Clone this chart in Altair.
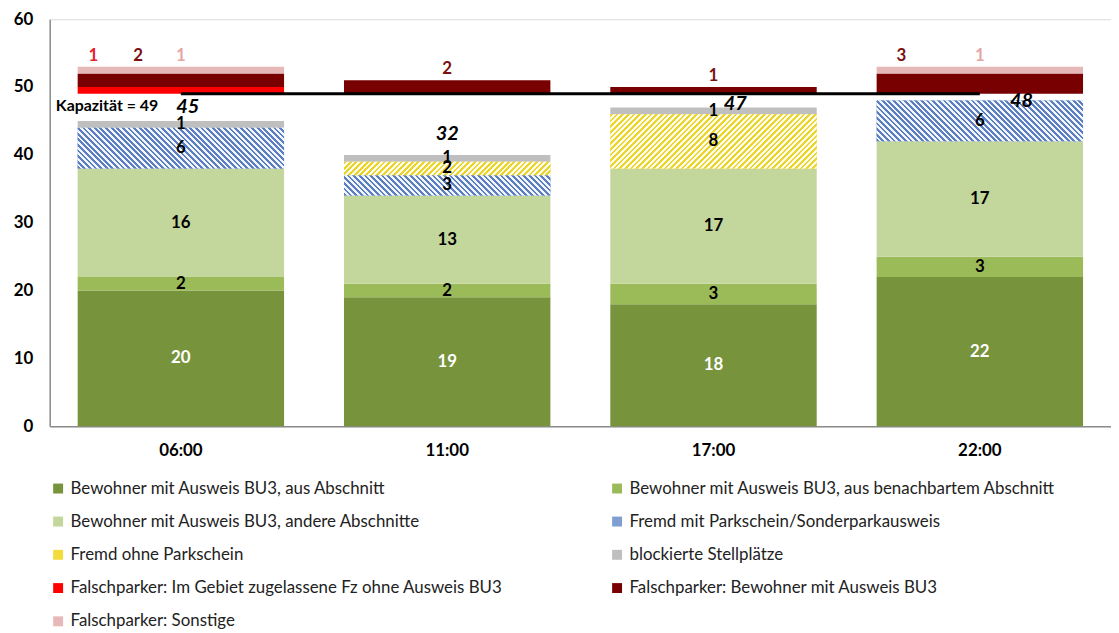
import math
import altair as alt
import pandas as pd

# ---------------- data ----------------
times = ["06:00", "11:00", "17:00", "22:00"]
categories = [
    "Bewohner mit Ausweis BU3, aus Abschnitt",
    "Bewohner mit Ausweis BU3, aus benachbartem Abschnitt",
    "Bewohner mit Ausweis BU3, andere Abschnitte",
    "Fremd mit Parkschein/Sonderparkausweis",
    "Fremd ohne Parkschein",
    "blockierte Stellplätze",
    "Falschparker: Im Gebiet zugelassene Fz ohne Ausweis BU3",
    "Falschparker: Bewohner mit Ausweis BU3",
    "Falschparker: Sonstige",
]
aus_abschnitt = [20, 19, 18, 22]
benachbart = [2, 2, 3, 3]
andere = [16, 13, 17, 17]
fremd_mit = [6, 3, 0, 6]
fremd_ohne = [0, 2, 8, 0]
blockiert = [1, 1, 1, 0]
falsch_gebiet = [1, 0, 0, 0]
falsch_bewohner = [2, 2, 1, 3]
falsch_sonstige = [1, 0, 0, 1]
total_labels = [45, 32, 47, 48]
capacity = 49

lower_series = [aus_abschnitt, benachbart, andere, fremd_mit, fremd_ohne, blockiert]
upper_series = [falsch_gebiet, falsch_bewohner, falsch_sonstige]

# ---------------- style ----------------
FONT = "Lato"
colors = ["#77933c", "#9bbb59", "#c3d69b", "#7f9fd3", "#f2dc3c",
          "#bfbfbf", "#ff0000", "#780000", "#e6b9b8"]
upper_label_colors = ["#e8202a", "#7a1010", "#e6a4a3"]
hatch_style = {
    categories[3]: ("#5b7fc0", "#f2f6fc", "back"),
    categories[4]: ("#ecd52a", "#fffdf0", "fwd"),
}
# per-label horizontal offsets (pixels) for the Falschparker labels
upper_dx = {("06:00", 0): -88, ("06:00", 1): -43, ("06:00", 2): 0,
            ("11:00", 1): 0, ("17:00", 1): 0,
            ("22:00", 1): -79, ("22:00", 2): 0}
total_dx = [7, 0, 22, 42]
total_dy = [-14, -21, -3, 0]

W, H, YMAX = 1069, 410, 60
PAD_IN, PAD_OUT = 0.225, 0.105
step = W / (len(times) - PAD_IN + 2 * PAD_OUT)
bar_w = step * (1 - PAD_IN)
unit = H / YMAX


def hatch(w, h, c_on, c_off, direction, period=4.0):
    t = (w + h) / (w * w + h * h)
    if direction == "back":
        x1, y1, x2, y2 = 0, 1, t * w, 1 - t * h
    else:
        x1, y1, x2, y2 = 0, 0, t * w, t * h
    n = max(1, round((w + h) / math.sqrt(2) / period))
    stops = []
    for i in range(n):
        a, m, b = i / n, (i + 0.5) / n, (i + 1) / n
        stops += [{"offset": a, "color": c_on}, {"offset": m, "color": c_on},
                  {"offset": m, "color": c_off}, {"offset": b, "color": c_off}]
    return {"gradient": "linear", "x1": x1, "y1": y1, "x2": x2, "y2": y2, "stops": stops}


# ---------------- tables ----------------
rows = []
for i, t in enumerate(times):
    base = 0
    for k, s in enumerate(lower_series):
        v = s[i]
        if v > 0:
            rows.append({"time": t, "cat": categories[k], "k": k, "v": v,
                         "y0": base, "y1": base + v, "part": "low"})
        base += v
    top = capacity + sum(s[i] for s in upper_series)
    base = capacity
    for k, s in enumerate(upper_series):
        v = s[i]
        if v > 0:
            rows.append({"time": t, "cat": categories[6 + k], "k": 6 + k, "v": v,
                         "y0": base, "y1": base + v, "part": "up", "top": top})
        base += v
df = pd.DataFrame(rows)
df["mid"] = (df["y0"] + df["y1"]) / 2

hrows = []
for r in rows:
    if r["cat"] in hatch_style:
        c_on, c_off, d = hatch_style[r["cat"]]
        hrows.append({"time": r["time"], "y0": r["y0"], "y1": r["y1"],
                      "grad": hatch(bar_w, r["v"] * unit, c_on, c_off, d)})
hdf = pd.DataFrame(hrows)

totals = pd.DataFrame({"time": times,
                       "total": [sum(s[i] for s in lower_series) for i in range(len(times))],
                       "label": [str(v) for v in total_labels]})
cap_df = pd.DataFrame({"time": ["06:00"], "time2": ["22:00"], "cap": [capacity],
                       "label": [f"Kapazität = {capacity}"]})

# ---------------- chart ----------------
xenc = alt.X("time:N", sort=times,
             scale=alt.Scale(domain=times, paddingInner=PAD_IN, paddingOuter=PAD_OUT),
             axis=alt.Axis(title=None, labelAngle=0, labelFontWeight="bold", labelFontSize=17,
                           labelFont=FONT, labelColor="#000", tickSize=0, labelPadding=16,
                           domainColor="#8c8c8c", domainWidth=1.5))
yscale = alt.Scale(domain=[0, YMAX], nice=False)
yaxis = alt.Axis(title=None, values=list(range(0, YMAX + 1, 10)), grid=False, tickSize=0,
                 labelFontWeight="bold", labelFontSize=17, labelFont=FONT, labelColor="#000",
                 labelPadding=17, domainColor="#8c8c8c", domainWidth=1.5)

bars = alt.Chart(df).mark_bar().encode(
    x=xenc,
    y=alt.Y("y0:Q", scale=yscale, axis=yaxis),
    y2="y1:Q",
    color=alt.Color("cat:N", scale=alt.Scale(domain=categories, range=colors),
                    sort=categories,
                    legend=alt.Legend(title=None, orient="bottom", columns=2, symbolType="square",
                                      symbolSize=100, labelFontSize=17, labelFont=FONT,
                                      labelColor="#222", rowPadding=15.5, columnPadding=106,
                                      labelLimit=700, offset=22, symbolStrokeWidth=0)),
    order=alt.Order("k:Q"),
)

hatched = alt.Chart(hdf).mark_bar().encode(
    x=alt.X("time:N", sort=times),
    y=alt.Y("y0:Q"),
    y2="y1:Q",
    fill=alt.Fill("grad:N", scale=None),
)

low_labels = alt.Chart(df[df.part == "low"]).mark_text(
    font=FONT, fontSize=17, fontWeight="bold", baseline="middle").encode(
    x=alt.X("time:N", sort=times),
    y=alt.Y("mid:Q"),
    text=alt.Text("v:Q"),
    color=alt.condition(alt.datum.k == 0, alt.value("white"), alt.value("black")),
)

layers = [bars, hatched, low_labels]

up = df[df.part == "up"].copy()
up["dx"] = [upper_dx.get((t, k - 6), 0) for t, k in zip(up["time"], up["k"])]
up["tcol"] = [upper_label_colors[k - 6] for k in up["k"]]
for dxv in sorted(up["dx"].unique()):
    sub = up[up.dx == dxv]
    for col in sub["tcol"].unique():
        sub2 = sub[sub.tcol == col]
        layers.append(alt.Chart(sub2).mark_text(
            font=FONT, fontSize=17, fontWeight="bold", baseline="bottom",
            dx=float(dxv), dy=-2, color=col).encode(
            x=alt.X("time:N", sort=times), y=alt.Y("top:Q"), text=alt.Text("v:Q")))

cap_rule = alt.Chart(cap_df).mark_rule(color="black", strokeWidth=3).encode(
    x=alt.X("time:N", sort=times), x2="time2:N", y=alt.Y("cap:Q"))
cap_text = alt.Chart(cap_df).mark_text(
    font=FONT, fontSize=16, fontWeight="bold", align="left", baseline="middle",
    dx=-126, dy=12, color="black").encode(
    x=alt.X("time:N", sort=times), y=alt.Y("cap:Q"), text="label:N")
layers += [cap_rule, cap_text]

for i, t in enumerate(times):
    layers.append(alt.Chart(totals[totals.time == t]).mark_text(
        font=FONT, fontSize=20, fontWeight="bold", fontStyle="italic", baseline="middle",
        dx=total_dx[i], dy=total_dy[i], color="black").encode(
        x=alt.X("time:N", sort=times), y=alt.Y("total:Q"), text="label:N"))

chart = alt.layer(*layers).properties(
    width=W, height=H,
    autosize=alt.AutoSizeParams(type="none"),
    padding={"left": 42, "top": 9, "right": 0, "bottom": 208},
).configure_view(stroke=None).configure(background="white")

chart.save("out.html", embed_options={"renderer": "svg", "actions": False})
